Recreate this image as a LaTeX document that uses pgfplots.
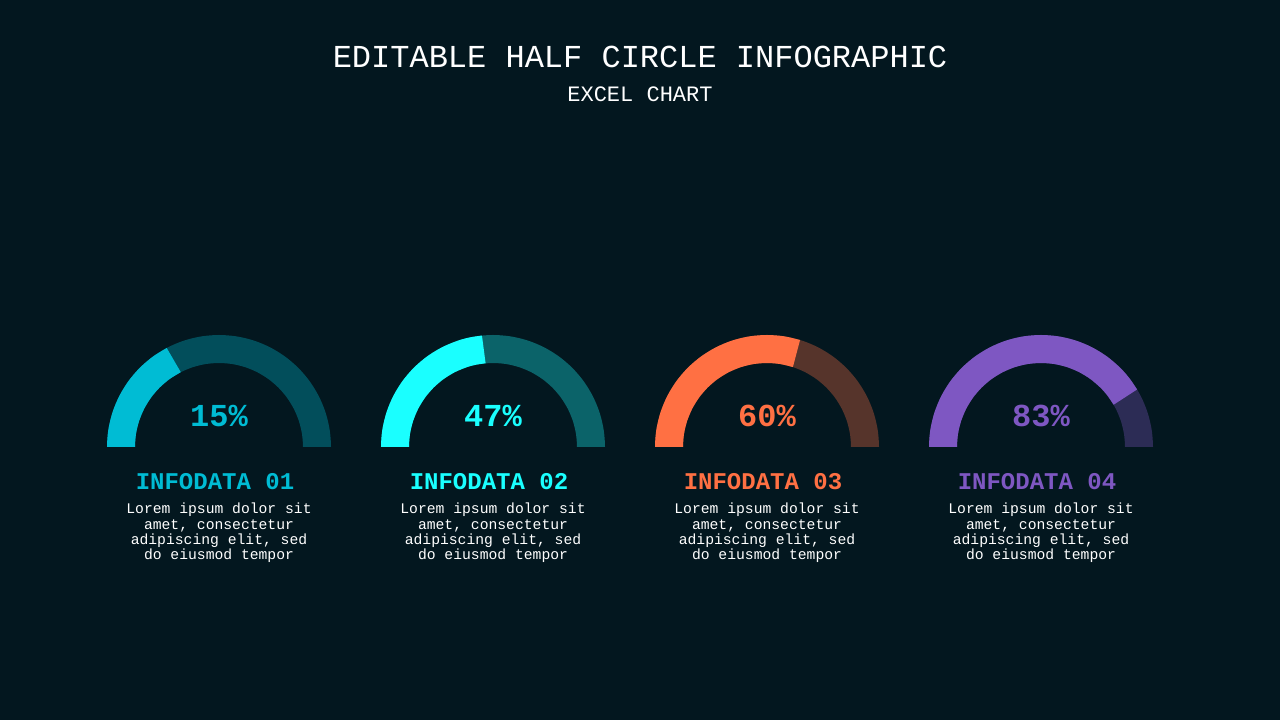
\documentclass[border=0pt]{standalone}
\usepackage{pgfplots}
\pgfplotsset{compat=1.18}
\usepackage{fontspec}
\setmainfont{Liberation Mono}
\definecolor{bg}{HTML}{03171F}
\definecolor{cA}{HTML}{00BCD4}
\definecolor{cB}{HTML}{1AFFFF}
\definecolor{cC}{HTML}{FF7043}
\definecolor{cD}{HTML}{7E57C2}
\colorlet{tA}{cA!33!bg}
\colorlet{tB}{cB!33!bg}
\colorlet{tC}{cC!33!bg}
\colorlet{tD}{cD!33!bg}
\pgfplotsset{gauge/.style={width=240pt,height=120pt,scale only axis,
  xmin=-120,xmax=120,ymin=0,ymax=120,hide axis,clip=true,anchor=south west},
  arc/.style={line width=28pt,smooth,data cs=polar,mark=none}}
% track: full half circle, radius 98 (angle, radius); ends run below the baseline and are clipped
\newcommand{\track}{(189,98) (180,98) (171,98) (162,98) (153,98) (144,98) (135,98) (126,98) (117,98) (108,98) (99,98) (90,98) (81,98) (72,98) (63,98) (54,98) (45,98) (36,98) (27,98) (18,98) (9,98) (0,98) (-9,98)}
\begin{document}
\begin{tikzpicture}
\fill[bg] (0pt,0pt) rectangle (1280pt,720pt);
\node[anchor=base,text=white,font=\fontsize{32}{38}\selectfont,inner sep=0pt] at (640pt,652.3pt) {EDITABLE HALF CIRCLE INFOGRAPHIC};
\node[anchor=base,text=white,font=\fontsize{22}{26}\selectfont,inner sep=0pt] at (640pt,618pt) {EXCEL CHART};

% gauge 1 (arc drawn as in picture)
\begin{axis}[gauge,at={(99pt,273pt)}]
\addplot[arc,tA] coordinates {\track};
\addplot[arc,cA] coordinates {(189,98) (180,98) (171,98) (162,98) (153,98) (144,98) (135,98) (126,98) (117.5,98)};
\end{axis}
% gauge 2
\begin{axis}[gauge,at={(373pt,273pt)}]
\addplot[arc,tB] coordinates {\track};
\addplot[arc,cB] coordinates {(189,98) (180,98) (171,98) (162,98) (153,98) (144,98) (135,98) (126,98) (117,98) (108,98) (101.7,98) (95.4,98)};
\end{axis}
% gauge 3
\begin{axis}[gauge,at={(647pt,273pt)}]
\addplot[arc,tC] coordinates {\track};
\addplot[arc,cC] coordinates {(189,98) (180,98) (171,98) (162,98) (153,98) (144,98) (135,98) (126,98) (117,98) (108,98) (99,98) (90,98) (81,98) (72.5,98)};
\end{axis}
% gauge 4
\begin{axis}[gauge,at={(921pt,273pt)}]
\addplot[arc,tD] coordinates {\track};
\addplot[arc,cD] coordinates {(189,98) (180,98) (171,98) (162,98) (153,98) (144,98) (135,98) (126,98) (117,98) (108,98) (99,98) (90,98) (81,98) (72,98) (63,98) (54,98) (45,98) (37.8,98) (30.6,98)};
\end{axis}

\foreach \cx/\col/\pct/\num in {219/cA/15/01, 493/cB/47/02, 767/cC/60/03, 1041/cD/83/04}{
  \node[anchor=base,text=\col,font=\fontsize{32}{38}\selectfont\bfseries,inner sep=0pt] at (\cx pt,293.3pt) {\pct\%};
  \node[anchor=base,text=\col,font=\fontsize{24}{28}\selectfont\bfseries,inner sep=0pt] at ({(\cx-4)*1pt},230pt) {INFODATA \num};
  \node[anchor=base,text=white,font=\fontsize{14.7}{17}\selectfont,inner sep=0pt] at (\cx pt,206pt) {Lorem ipsum dolor sit};
  \node[anchor=base,text=white,font=\fontsize{14.7}{17}\selectfont,inner sep=0pt] at (\cx pt,190.7pt) {amet, consectetur};
  \node[anchor=base,text=white,font=\fontsize{14.7}{17}\selectfont,inner sep=0pt] at (\cx pt,175.5pt) {adipiscing elit, sed};
  \node[anchor=base,text=white,font=\fontsize{14.7}{17}\selectfont,inner sep=0pt] at (\cx pt,160pt) {do eiusmod tempor};
}
\end{tikzpicture}
\end{document}
